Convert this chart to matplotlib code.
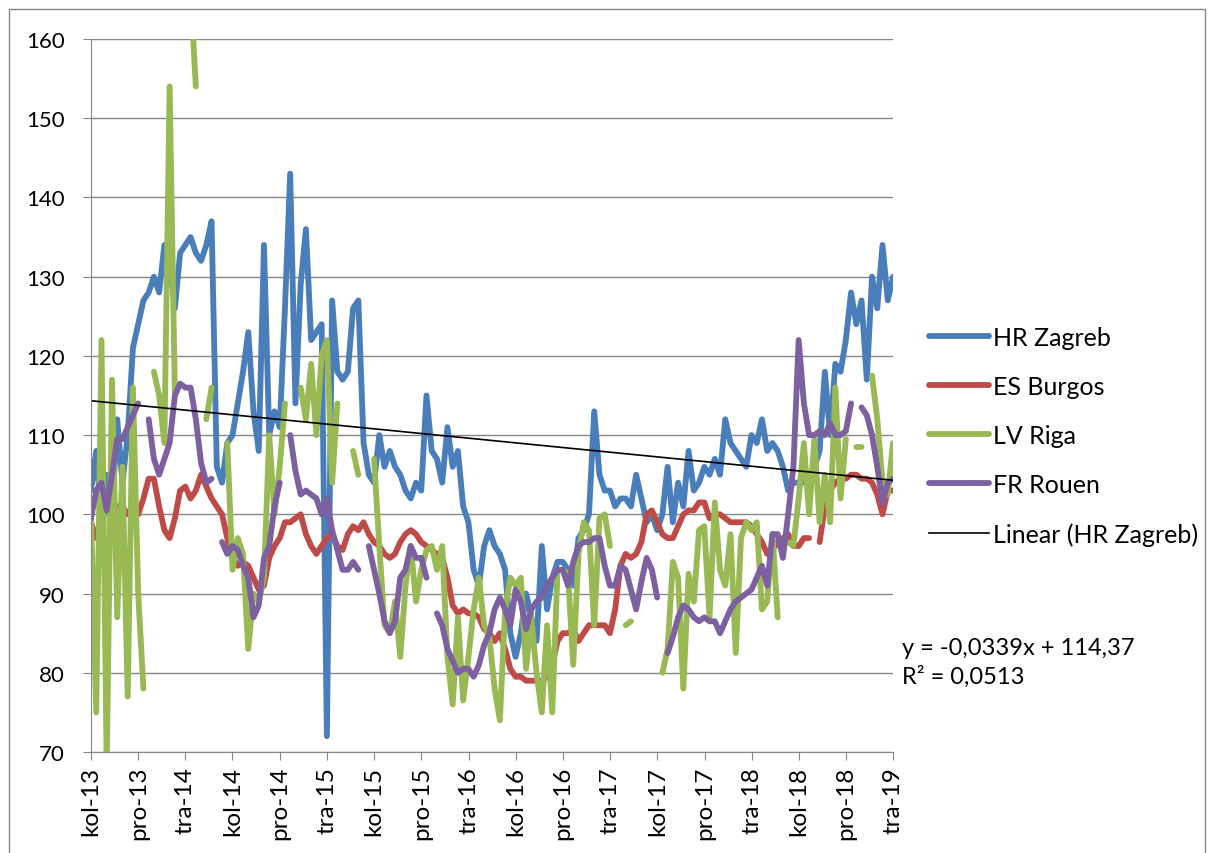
import matplotlib
matplotlib.use("Agg")
import matplotlib.pyplot as plt
from matplotlib.patches import Rectangle
import numpy as np
import pandas as pd

plt.rcParams['font.family'] = ['Lato', 'DejaVu Sans']

# oznake na osi x (svaka 4 mjeseca)
tick_labels = ["kol-13", "pro-13", "tra-14", "kol-14", "pro-14", "tra-15",
               "kol-15", "pro-15", "tra-16", "kol-16", "pro-16", "tra-17",
               "kol-17", "pro-17", "tra-18", "kol-18", "pro-18", "tra-19"]

# HR Zagreb (9 vrijednosti po 4-mjesecnom razdoblju + zadnja)
zagreb = [103, 108, 99, 105, 100, 112, 104, 110, 121,
          124, 127, 128, 130, 128, 134, 132, 126, 133,
          134, 135, 133, 132, 134, 137, 106, 104, 109,
          110, 114, 118, 123, 113, 108, 134, 110, 113,
          111, 126, 143, 114, 129, 136, 122, 123, 124,
          72, 127, 118, 117, 118, 126, 127, 109, 105,
          104, 110, 106, 108, 106, 105, 103, 102, 104,
          103, 115, 108, 107, 104, 111, 106, 108, 101,
          99, 93, 91, 96, 98, 96, 95, 93, 85,
          82, 85, 90, 87, 84, 96, 88, 92, 94,
          94, 93, 91, 97, 98, 100, 113, 105, 103,
          103, 101, 102, 102, 101, 105, 102, 99, 100,
          98, 100, 106, 99, 104, 101, 108, 103, 104,
          106, 105, 107, 105, 112, 109, 108, 107, 106,
          110, 109, 112, 108, 109, 108, 106, 103, 104,
          104, 104, 105, 106, 108, 118, 110, 119, 118,
          122, 128, 124, 127, 117, 130, 126, 134, 127, 130]

# ES Burgos
burgos = [99, 97, 99, 101, 101, 101, 101, 100, 100,
          100, 102, 104.5, 104.5, 101, 98, 97, 99.5, 103,
          103.5, 102, 103, 105, 103.5, 102, 101, 100, 97,
          94.5, 93.5, 94, 93.5, 92, 90.5, 91, 94.5, 96,
          97, 99, 99, 99.5, 100, 97.5, 96, 95, 96,
          97, 97.5, 96, 95.5, 97.5, 98.5, 98, 99, 97.5,
          96.5, 96, 95, 94.5, 95, 96.5, 97.5, 98, 97.5,
          96.5, 96, 95.5, 95, 94.5, 92, 88.5, 87.5, 88,
          87.5, 87.5, 87, 85.5, 85, 84, 85, 83, 80.5,
          79.5, 79.5, 79, 79, 79, 79, 79.5, 81, 84,
          85, 85, 85.5, 84, 85, 86, 86, 86, 86,
          85, 88, 93.5, 95, 94.5, 95, 96.5, 100, 100.5,
          99, 97.5, 97, 97, 98.5, 100, 100.5, 100.5, 101.5,
          101.5, 99.5, 100, 100, 99.5, 99, 99, 99, 99,
          98.5, 97.5, 96.5, 95, 95.5, 96.5, 97, 97.5, 96,
          96, 97, 97, None, 96.5, 101, 103, 104, 104.5,
          104.5, 105, 105, 104.5, 104.5, 104, 102.5, 100, 103, 103]

# LV Riga
riga = [100, 75, 122, 68, 117, 87, 106, 77, 116,
        90, 78, None, 118, 115, 109, 154, 115, None,
        None, 166, 154, None, 112, 116, None, None, 109,
        93, 97, 95, 83, 90, 89, 92, 110, 100,
        106, 114, None, None, 116, 112, 119, 110, 120,
        122, 104, 114, None, None, 108, 105, None, None,
        107, 96, 86, 85, 89, 82, 91, 96, 89,
        93, 95.5, 96, 93, 96, 82, 76, 87, 76.5,
        82, 88, 92, 86, 84.5, 78, 74, 88, 92,
        91, 92, 80.5, 87, 80, 75, 86, 75, 93,
        93, 92.5, 81, 95, 99, 98, 86, 99.5, 100,
        96, None, None, 86, 86.5, None, None, None, None,
        None, 80, 83, 94, 92, 78, 92.5, 89, 98,
        98.5, 87, 101.5, 93, 91, 97.5, 82.5, 97, 99,
        98, 99, 88, 89, 97.5, 87, None, 96.5, 96,
        102, 109, 100, 109.5, 99, 105, 99, 116, 102,
        109.5, None, 108.5, 108.5, None, 117.5, 112, 104, 102.5, 109]

# FR Rouen
rouen = [99.5, 103, 104, 100.5, 105, 109.5, 109.5, 111, 112.5,
         114, None, 112, 107, 105, 107, 109, 115, 116.5,
         116, 116, 112, 106.5, 104, 104.5, None, 96.5, 95,
         96, 95.5, 93.5, 92, 87, 88.5, 94.5, 96, 101,
         104, None, 110, 105.5, 102.5, 103, 102.5, 102, 100,
         102, 98, 95.5, 93, 93, 94, 93, None, 96,
         93, 90, 86.5, 85, 86.5, 92, 93, 96, 94.5,
         94.5, 92, None, 87.5, 86, 83, 81.5, 80, 80.5,
         80.5, 79.5, 81, 83.5, 85, 88, 89.5, 88, 86,
         90.5, 89, 85.5, 88, 89, 89.5, 91, 92, 93,
         93, 91, 94, 96, 96.5, 96.5, 97, 97, 93.5,
         91, 91, 93.5, 93, 90.5, 88, 91.5, 94.5, 93,
         89.5, None, 82.5, 84.5, 87, 88.5, 88, 87, 86.5,
         87, 86.5, 86.5, 85, 86.5, 88, 89, 89.5, 90,
         90.5, 92, 93.5, 91, 97.5, 97.5, 94.5, 100, 106,
         122, 114, 110, 110, 110.5, 110, 111.5, 110, 110,
         110.5, 114, None, 113.5, 112.5, 110, 106, 101.5, 104, 104.5]

# linearni trend (HR Zagreb), x = broj tjedna
trend_slope = -0.0339
trend_intercept = 114.37
n_weeks = 297

dates = pd.date_range("2013-08-01", "2019-04-01", periods=len(zagreb))
tick_dates = pd.date_range("2013-08-01", periods=len(tick_labels), freq="4MS")

fig = plt.figure(figsize=(12.08, 8.54), dpi=100)
ax = fig.add_axes([91/1208, 1-753/854, (893-91)/1208, (753-40)/854])

lw = 4.2
ax.plot(dates, np.array(zagreb, dtype=float), color='#4A7EBB', lw=lw, label='HR Zagreb',
        solid_capstyle='round', solid_joinstyle='round')
ax.plot(dates, np.array(burgos, dtype=float), color='#BE4B48', lw=lw, label='ES Burgos',
        solid_capstyle='round', solid_joinstyle='round')
ax.plot(dates, np.array(riga, dtype=float), color='#98B954', lw=lw, label='LV Riga',
        solid_capstyle='round', solid_joinstyle='round')
ax.plot(dates, np.array(rouen, dtype=float), color='#7D60A0', lw=lw, label='FR Rouen',
        solid_capstyle='round', solid_joinstyle='round')
ax.plot([dates[0], dates[-1]],
        [trend_intercept + trend_slope * 1, trend_intercept + trend_slope * n_weeks],
        color='black', lw=1.2, label='Linear (HR Zagreb)')

ax.set_xlim(tick_dates[0], tick_dates[-1])
ax.set_ylim(70, 160)
ax.set_yticks(range(70, 161, 10))
ax.set_xticks(tick_dates)
ax.set_xticklabels(tick_labels, rotation=90)
ax.grid(axis='y', color='#868686', lw=1)
ax.set_axisbelow(True)
for s in ['top', 'right']:
    ax.spines[s].set_visible(False)
for s in ['left', 'bottom']:
    ax.spines[s].set_color('#868686')
ax.tick_params(axis='both', direction='out', length=6, color='#868686')
ax.tick_params(axis='y', pad=13, labelsize=16)
ax.tick_params(axis='x', pad=4, labelsize=17.5)

h, l = ax.get_legend_handles_labels()
fig.legend(h, l, loc='upper left', bbox_to_anchor=(929/1208, 1-327/854), frameon=False,
           fontsize=18, handlelength=2.4, handletextpad=0.15, labelspacing=1.04,
           borderaxespad=0, borderpad=0)

fig.text(902/1208, 1-638/854, "y = -0,0339x + 114,37\nR² = 0,0513", fontsize=17,
         va='top', linespacing=1.38)

# okvir grafikona
fig.add_artist(Rectangle((9/1208, -0.01), (1205-9)/1208, 1-10/854+0.01,
                         transform=fig.transFigure, fill=False, ec='#868686', lw=1))

fig.savefig('out.png', dpi=100)
